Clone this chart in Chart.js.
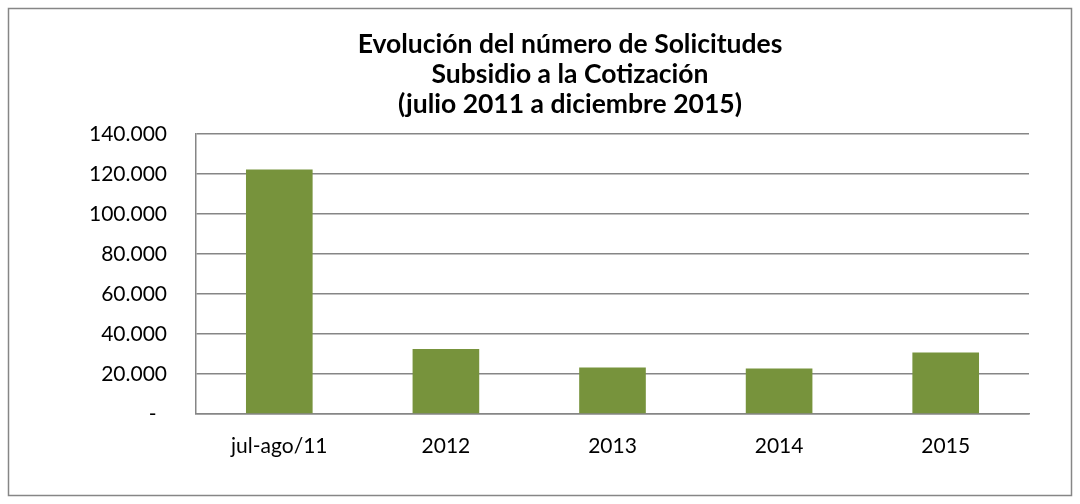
<!DOCTYPE html>
<html><head><meta charset="utf-8">
<script src="https://cdn.jsdelivr.net/npm/chart.js@4.4.1/dist/chart.umd.min.js"></script>
<style>html,body{margin:0;padding:0;background:#fff}#wrap{width:1080px;height:504px;position:relative}</style>
</head><body><div id="wrap"><canvas id="c" width="1080" height="504"></canvas></div>
<script>
const categories = ['jul-ago/11', '2012', '2013', '2014', '2015'];
const solicitudes = [122200, 32500, 23200, 22700, 30700];
const yTickValues = [0, 20000, 40000, 60000, 80000, 100000, 120000, 140000];
const titleLines = ['Evolución del número de Solicitudes', 'Subsidio a la Cotización', '(julio 2011 a diciembre 2015)'];

function fmt(v) {
  if (v === 0) return '-\u2002';
  return String(Math.round(v)).replace(/\B(?=(\d{3})+(?!\d))/g, '.');
}

const frameTitle = {
  id: 'frameTitle',
  beforeDraw(chart) {
    const ctx = chart.ctx;
    ctx.save();
    ctx.fillStyle = '#fff';
    ctx.fillRect(0, 0, chart.width, chart.height);
    ctx.strokeStyle = '#868686';
    ctx.lineWidth = 1.5;
    ctx.strokeRect(8.5, 8.5, 1063, 487);
    ctx.restore();
  },
  afterDraw(chart) {
    const ctx = chart.ctx;
    ctx.save();
    ctx.fillStyle = '#000';
    ctx.font = 'bold 26.5px Lato';
    ctx.textAlign = 'center';
    ctx.textBaseline = 'alphabetic';
    const base = [53, 83, 113];
    titleLines.forEach((t, i) => ctx.fillText(t, 570, base[i]));
    ctx.restore();
  }
};

new Chart(document.getElementById('c'), {
  type: 'bar',
  data: {
    labels: categories,
    datasets: [{
      data: solicitudes,
      backgroundColor: '#77933C',
      borderWidth: 0,
      categoryPercentage: 1,
      barPercentage: 0.4
    }]
  },
  options: {
    responsive: false,
    animation: false,
    devicePixelRatio: 1,
    layout: { padding: { left: 20, right: 51, top: 134, bottom: 30 } },
    plugins: { legend: { display: false }, tooltip: { enabled: false }, title: { display: false } },
    scales: {
      x: {
        grid: { display: false, drawTicks: false },
        border: { display: true, color: '#868686', width: 1.5 },
        ticks: { color: '#000', font: { family: 'Lato', size: 21 }, padding: 20 },
        afterFit(s) { s.height = 60; }
      },
      y: {
        min: 0, max: 140000,
        afterBuildTicks(s) { s.ticks = yTickValues.map(v => ({ value: v })); },
        grid: { color: '#868686', lineWidth: 1.5, drawTicks: false },
        border: { display: true, color: '#868686', width: 1.5 },
        ticks: { color: '#000', font: { family: 'Lato', size: 21 }, padding: 29, callback: v => fmt(v) },
        afterFit(s) { s.width = 176; }
      }
    }
  },
  plugins: [frameTitle]
});
</script></body></html>
